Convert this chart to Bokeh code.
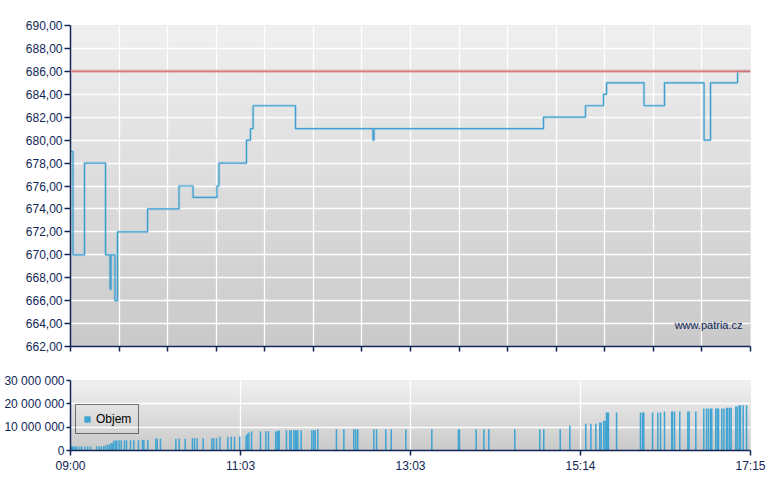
import numpy as np
from bokeh.plotting import figure
from bokeh.layouts import column
from bokeh.models import (FixedTicker, Range1d, BoxAnnotation, Span, Label,
                          Legend, LegendItem)
from bokeh.embed import file_html
from bokeh.resources import INLINE

# ---------------- data ----------------
# session position (0 = 09:00 open ... 495 = 17:15 close)
price_x = [0, 1.8, 10.2, 25.5, 28.8, 29.5, 32.4, 34.2, 56.1, 79.0, 89.2,
           106.6, 108.1, 128.1, 131.0, 132.9, 163.8, 220.2, 220.9, 344.3,
           374.9, 388.0, 390.2, 417.5, 432.4, 461.2, 465.9, 485.6, 495.0]
price_y = [679, 670, 678, 670, 667, 670, 666, 672, 674, 676, 675,
           676, 678, 680, 681, 683, 681, 680, 681, 682,
           683, 684, 685, 683, 685, 680, 685, 686, 686]
prev_close = 686.0

vol_x = [0.5, 1.5, 2.5, 3.6, 4.9, 6.8, 8.2, 10.7, 12.6, 14.6,
         18.9, 20.9, 22.6, 24.3, 25.7, 27.2, 28.6, 29.6, 30.8,
         31.5, 32.8, 33.7, 35.4, 36.9, 39.3, 40.8, 43.7, 46.1, 49.5,
         52.4, 53.4, 54.4, 56.3, 62.1, 63.1, 65.5, 76.7, 79.1, 83.5,
         88.8, 90.3, 92.2, 96.6, 102.9, 104.3, 106.3, 108.7, 114.5, 117.0,
         119.4, 123.2, 127.8, 128.8, 129.9, 131.8, 138.3, 142.2, 144.1,
         149.4, 150.5, 151.4, 151.9, 157.2, 159.6, 160.7, 162.6, 163.6,
         164.5, 165.5, 167.9, 175.7, 177.1, 178.1, 180.0, 193.6, 199.0,
         206.2, 207.7, 209.1, 220.8, 222.8, 229.5, 233.5, 244.1, 263.0,
         282.4, 283.1, 295.3, 300.9, 304.5, 323.4, 341.6, 344.5, 356.5,
         363.5, 375.1, 378.8, 382.4, 385.3, 386.3, 388.2, 389.2, 390.2,
         390.7, 391.6, 397.5, 414.9, 416.4, 417.3, 423.7, 427.5, 429.5,
         432.4, 437.7, 438.2, 439.7, 443.5, 449.4, 450.3, 455.2, 461.0,
         463.0, 464.4, 465.9, 466.8, 469.7, 470.8, 471.7, 474.1, 475.6,
         477.5, 478.5, 479.9, 480.9, 484.3, 485.3, 486.8, 487.7, 489.7,
         492.1]
vol_y = [1.75e6] * 10 + \
        [1.8e6, 1.8e6, 1.8e6, 1.9e6, 2.2e6, 2.6e6, 2.6e6, 3.2e6, 3.2e6,
         4.3e6, 4.3e6, 4.3e6, 4.4e6, 4.4e6, 4.4e6, 4.4e6, 4.4e6, 4.4e6, 4.4e6,
         4.5e6, 4.5e6, 0.6e6, 4.6e6, 5.0e6, 5.0e6, 5.0e6, 5.0e6, 5.0e6, 5.0e6,
         5.3e6, 5.3e6, 5.3e6, 5.3e6, 5.3e6, 5.3e6, 5.3e6, 5.9e6, 5.9e6, 5.9e6,
         5.9e6, 6.1e6, 6.3e6, 7.3e6, 7.7e6, 8.2e6, 8.3e6, 8.3e6, 8.3e6,
         8.3e6, 8.3e6, 8.3e6, 8.7e6, 8.7e6, 8.7e6, 8.7e6, 8.7e6, 8.7e6,
         8.7e6, 8.7e6, 8.7e6, 8.7e6, 8.7e6, 8.7e6, 9.1e6, 9.1e6, 9.1e6,
         9.1e6, 9.1e6, 9.1e6, 9.1e6, 9.1e6, 9.1e6, 9.1e6, 9.1e6, 9.1e6,
         9.1e6, 9.1e6, 9.1e6, 9.1e6, 9.1e6, 9.1e6, 9.1e6, 9.1e6, 9.1e6,
         10.6e6, 11.5e6, 11.5e6, 11.5e6, 12.0e6, 12.0e6, 12.8e6, 12.8e6, 16.3e6,
         16.3e6, 16.3e6, 16.3e6, 16.3e6, 16.3e6, 16.3e6, 16.3e6, 16.3e6, 16.3e6,
         16.7e6, 16.7e6, 16.7e6, 16.7e6, 16.7e6, 16.7e6, 16.7e6, 16.7e6, 18.0e6,
         18.0e6, 18.0e6, 18.0e6, 18.0e6, 18.0e6, 18.0e6, 18.0e6, 18.0e6, 18.0e6,
         18.3e6, 18.3e6, 18.3e6, 18.3e6, 18.9e6, 18.9e6, 19.4e6, 19.4e6, 19.4e6,
         19.4e6]

session_start, session_end = 0, 495
time_tick_pos = [0, 123.75, 247.5, 371.25, 495]
time_tick_labels = ["09:00", "11:03", "13:03", "15:14", "17:15"]
price_min, price_max = 662, 690
price_ticks = list(range(662, 692, 2))
vol_ticks = [0, 10_000_000, 20_000_000, 30_000_000]
vol_tick_labels = ["0", "10 000 000", "20 000 000", "30 000 000"]

# ---------------- styling ----------------
NAVY = "#102656"
FONT = "Liberation Sans"
LINE_BLUE = "#3d9fd0"
BAR_BLUE = "#40a4d2"


def add_gradient(fig, y0, y1, c_top, c_bot, n=48):
    edges = np.linspace(y0, y1, n + 1)
    step = edges[1] - edges[0]
    for i in range(n):
        t = (i + 0.5) / n
        c = [int(round(c_bot[k] + (c_top[k] - c_bot[k]) * t)) for k in range(3)]
        fig.add_layout(BoxAnnotation(bottom=edges[i] - step * 0.3,
                                     top=edges[i + 1] + step * 0.3,
                                     fill_color="#%02x%02x%02x" % tuple(c),
                                     fill_alpha=1, line_color=None,
                                     level="image"))


def style_axes(fig):
    for ax in (fig.xaxis[0], fig.yaxis[0]):
        ax.axis_line_color = NAVY
        ax.axis_line_width = 1.5
        ax.major_tick_line_color = NAVY
        ax.major_tick_line_width = 1.5
        ax.major_tick_in = 0
        ax.minor_tick_line_color = None
        ax.major_label_text_color = NAVY
        ax.major_label_text_font = FONT
        ax.major_label_text_font_size = "12px"
    for g in (fig.xgrid[0], fig.ygrid[0]):
        g.grid_line_color = "white"
        g.grid_line_width = 1.3


# ---------------- price chart ----------------
p = figure(frame_width=680, frame_height=321,
           x_range=Range1d(session_start, session_end),
           y_range=Range1d(price_min, price_max),
           output_backend="svg", toolbar_location=None,
           min_border_left=70, min_border_right=18,
           min_border_top=25, min_border_bottom=20,
           outline_line_color=None, background_fill_color="#dadada",
           border_fill_color="white")
add_gradient(p, price_min, price_max, (239, 239, 239), (201, 201, 201))
style_axes(p)
main_x_ticks = list(np.linspace(session_start, session_end, 15))
p.xaxis.ticker = FixedTicker(ticks=main_x_ticks)
p.xaxis.major_label_overrides = {t: "" for t in main_x_ticks}
p.xaxis.major_label_standoff = 0
p.xaxis.major_tick_out = 5
p.yaxis.ticker = FixedTicker(ticks=price_ticks)
p.yaxis.major_label_overrides = {t: f"{t:.2f}".replace(".", ",") for t in price_ticks}
p.yaxis.major_tick_out = 6
p.yaxis.major_label_standoff = 2

p.add_layout(Span(location=prev_close, dimension="width", line_color="#e4a0a0",
                  line_width=3, line_alpha=0.85))
p.add_layout(Span(location=prev_close, dimension="width", line_color="#cc3a3a",
                  line_width=1, line_alpha=0.5))

p.step(price_x, price_y, mode="after", line_color=LINE_BLUE, line_width=3,
       line_alpha=0.2)
p.step(price_x, price_y, mode="after", line_color=LINE_BLUE, line_width=1.2)

p.add_layout(Label(x=session_end, y=price_min, x_offset=-8, y_offset=22,
                   text="www.patria.cz", text_align="right",
                   text_baseline="middle", text_font=FONT,
                   text_font_size="11px", text_color=NAVY))

# ---------------- volume chart ----------------
v = figure(frame_width=680, frame_height=70,
           x_range=p.x_range, y_range=Range1d(0, 30_000_000),
           output_backend="svg", toolbar_location=None,
           min_border_left=70, min_border_right=18,
           min_border_top=14, min_border_bottom=30,
           outline_line_color=None, background_fill_color="#dadada",
           border_fill_color="white")
add_gradient(v, 0, 30_000_000, (240, 240, 240), (201, 201, 201), n=24)
style_axes(v)
v.xaxis.ticker = FixedTicker(ticks=time_tick_pos)
v.xaxis.major_label_overrides = dict(zip(time_tick_pos, time_tick_labels))
v.xaxis.major_tick_out = 5
v.xaxis.major_label_standoff = 3
v.yaxis.ticker = FixedTicker(ticks=vol_ticks)
v.yaxis.major_label_overrides = dict(zip(vol_ticks, vol_tick_labels))
v.yaxis.major_tick_out = 4
v.yaxis.major_label_standoff = 2

bars = v.vbar(x=vol_x, top=vol_y, width=1.1, fill_color=BAR_BLUE,
              line_color=None)
legend = Legend(items=[LegendItem(label="Objem", renderers=[bars])],
                location=(5, 16), border_line_color="black",
                border_line_width=1, background_fill_alpha=0,
                glyph_width=8, glyph_height=8, label_text_font=FONT,
                label_text_font_size="12px", label_text_color="black",
                label_standoff=5, label_width=35, padding=7, spacing=0,
                label_height=12, margin=0)
v.add_layout(legend)

layout = column(p, v, spacing=0)
open("out.html", "w").write(file_html(layout, INLINE))
